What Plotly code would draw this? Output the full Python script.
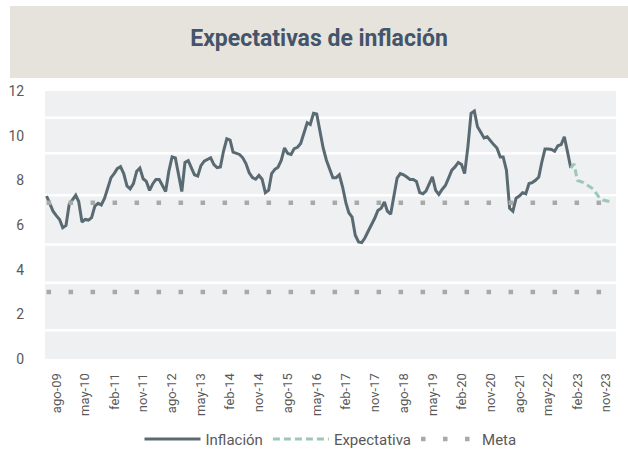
import pandas as pd
import plotly.graph_objects as go

# ---------------- data ----------------
start_month = "2009-05-01"

inflacion = [
    7.30, 6.95, 6.62, 6.42, 6.25, 5.88, 5.98, 6.92, 7.10, 7.33,
    7.05, 6.13, 6.25, 6.22, 6.33, 6.85, 6.97, 6.90, 7.20, 7.70,
    8.12, 8.31, 8.52, 8.61, 8.30, 7.75, 7.62, 7.85, 8.41, 8.55,
    8.07, 7.95, 7.55, 7.85, 8.04, 8.04, 7.74, 7.50, 8.40, 9.05,
    9.00, 8.30, 7.50, 8.80, 8.88, 8.55, 8.25, 8.19, 8.66, 8.86,
    8.95, 9.01, 8.70, 8.57, 8.60, 9.31, 9.86, 9.80, 9.26, 9.22,
    9.16, 9.01, 8.75, 8.34, 8.12, 8.05, 8.22, 8.05, 7.45, 7.56,
    8.30, 8.49, 8.59, 8.90, 9.45, 9.20, 9.16, 9.42, 9.48, 9.65,
    10.15, 10.58, 10.50, 11.00, 10.97, 10.20, 9.45, 8.90, 8.50, 8.12,
    8.12, 8.25, 7.70, 7.00, 6.55, 6.35, 5.54, 5.24, 5.21, 5.43,
    5.73, 6.00, 6.30, 6.65, 6.75, 7.03, 6.62, 6.48, 7.30, 8.10,
    8.30, 8.25, 8.15, 8.04, 8.04, 7.95, 7.45, 7.40, 7.52, 7.82,
    8.16, 7.55, 7.37, 7.59, 7.77, 8.10, 8.46, 8.60, 8.80, 8.71,
    8.30, 9.50, 11.00, 11.10, 10.40, 10.15, 9.90, 9.95, 9.75, 9.60,
    9.45, 9.05, 9.05, 8.45, 6.75, 6.62, 7.20, 7.30, 7.45, 7.40,
    7.86, 7.90, 8.00, 8.15, 8.80, 9.40, 9.40, 9.38, 9.30, 9.55,
    9.60, 9.95, 9.25, 8.55,
]

expectativa_start = "2022-12-01"
expectativa = [8.55, 8.74, 8.00, 7.95, 7.90, 7.80, 7.72, 7.62, 7.40, 7.20,
               7.12, 7.08, 7.05, 7.02]

meta_sup = 7
meta_inf = 3

tick_dates = ["2009-08-01", "2010-05-01", "2011-02-01", "2011-11-01", "2012-08-01",
              "2013-05-01", "2014-02-01", "2014-11-01", "2015-08-01", "2016-05-01",
              "2017-02-01", "2017-11-01", "2018-08-01", "2019-05-01", "2020-02-01",
              "2020-11-01", "2021-08-01", "2022-05-01", "2023-02-01", "2023-11-01"]
tick_labels = ["ago-09", "may-10", "feb-11", "nov-11", "ago-12", "may-13", "feb-14",
               "nov-14", "ago-15", "may-16", "feb-17", "nov-17", "ago-18", "may-19",
               "feb-20", "nov-20", "ago-21", "may-22", "feb-23", "nov-23"]

y_ticks = [0, 2, 4, 6, 8, 10, 12]

# ---------------- build ----------------
x_inf = pd.date_range(start_month, periods=len(inflacion), freq="MS")
x_exp = pd.date_range(expectativa_start, periods=len(expectativa), freq="MS")
x_all = pd.date_range(start_month, x_exp[-1], freq="MS")

meta_x = list(x_all) + [None] + list(x_all)
meta_y = [meta_sup] * len(x_all) + [None] + [meta_inf] * len(x_all)

fig = go.Figure()
fig.add_trace(go.Scatter(
    x=x_inf, y=inflacion, name="Inflación", mode="lines",
    line=dict(color="#5a6a73", width=3),
))
fig.add_trace(go.Scatter(
    x=x_exp, y=expectativa, name="Expectativa", mode="lines",
    line=dict(color="#9dc8b6", width=3, dash="7px,4px"),
))
fig.add_trace(go.Scatter(
    x=meta_x, y=meta_y, name="Meta", mode="lines", connectgaps=False,
    line=dict(color="#a9a9a9", width=4.5, dash="4.5px,17.5px"),
))

# irregular white guide lines as in the original design
guide_levels = [10.80, 9.21, 7.33, 5.13, 3.41, 1.29]
shapes = [
    dict(type="rect", xref="paper", yref="paper", x0=-0.0613, x1=1.03,
         y0=1.0485, y1=1.317, fillcolor="#e6e3dc", line=dict(width=0), layer="below")
]
for g in guide_levels:
    shapes.append(dict(type="line", xref="paper", yref="y", x0=0, x1=1, y0=g, y1=g,
                       line=dict(color="white", width=2.5), layer="below"))

fig.update_layout(
    width=628, height=451,
    margin=dict(l=45, r=12, t=91, b=92, autoexpand=False),
    paper_bgcolor="white",
    plot_bgcolor="#eff0f2",
    font=dict(family="Roboto", color="#595959"),
    title=dict(text="<b>Expectativas de inflación</b>", x=0.508, xref="container",
               xanchor="center", y=0.916, yref="container", yanchor="middle",
               font=dict(family="Roboto", size=23, color="#44546a")),
    shapes=shapes,
    showlegend=True,
    legend=dict(orientation="h", x=0.5, xanchor="center", xref="paper",
                y=0.026, yref="container", yanchor="middle",
                font=dict(size=15, color="#595959"), itemwidth=56,
                bgcolor="rgba(0,0,0,0)"),
    xaxis=dict(type="date", range=["2009-04-16", "2024-02-02"], automargin=False,
               tickmode="array", tickvals=tick_dates, ticktext=tick_labels,
               tickangle=-90, tickfont=dict(size=13, color="#595959"),
               showgrid=False, zeroline=False, showline=False,
               ticks="outside", ticklen=8, tickcolor="rgba(0,0,0,0)"),
    yaxis=dict(range=[0, 12], tickmode="array", tickvals=y_ticks, automargin=False,
               tickfont=dict(size=14, color="#595959"),
               showgrid=False, zeroline=False, showline=False,
               ticks="outside", ticklen=17, tickcolor="rgba(0,0,0,0)"),
)

fig.write_html("out.html", config={"displayModeBar": False},
               post_script="document.body.style.margin='0px';")
